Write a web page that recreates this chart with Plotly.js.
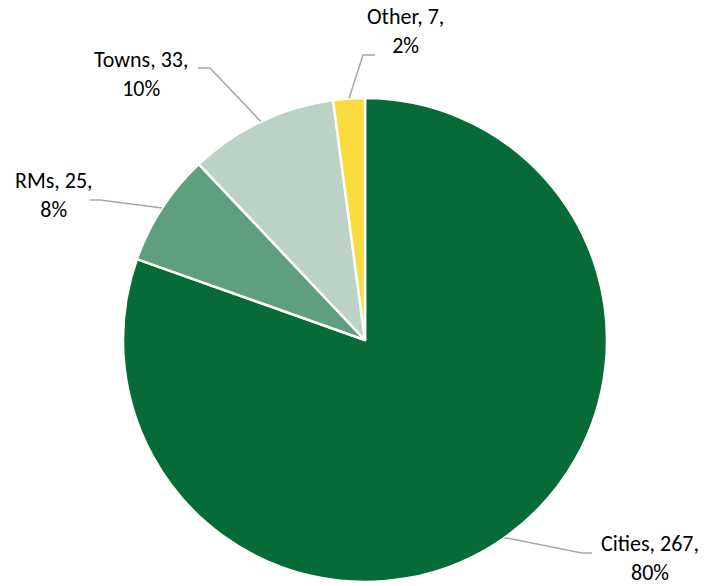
<!DOCTYPE html>
<html>
<head>
<meta charset="utf-8">
<script src="https://cdn.plot.ly/plotly-3.0.1.min.js"></script>
<style>html,body{margin:0;padding:0;background:#fff}#chart{width:704px;height:586px}</style>
</head>
<body>
<div id="chart"></div>
<script>
const labels = ["Cities", "RMs", "Towns", "Other"];
const values = [267, 25, 33, 7];
const colors = ["#066B37", "#5F9E7F", "#BCD2C7", "#FBDC3F"];

const W = 704, H = 586;
const cx = 365, cy = 340, R = 242;
// label block centres and elbow points (pixels)
const labelPos = [[650, 558], [54, 195], [141, 74], [405, 31]];
const elbowPos = [[582, 553], [100, 200], [210, 68], [363, 55]];
const lineEnd  = [[592, 553], [90, 200], [198, 68], [375, 55]];

const total = values.reduce((a, b) => a + b, 0);
const px = x => x / W, py = y => 1 - y / H;

const annotations = [];
const shapes = [];
let cum = 0;
values.forEach((v, i) => {
  const mid = (cum + v / 2) / total * 2 * Math.PI;
  cum += v;
  const sx = cx + R * Math.sin(mid), sy = cy - R * Math.cos(mid);
  const pct = Math.round(v / total * 100);
  annotations.push({
    xref: "paper", yref: "paper", x: px(labelPos[i][0]), y: py(labelPos[i][1]),
    xanchor: "center", yanchor: "middle", showarrow: false, align: "center",
    borderpad: 0,
    text: `${labels[i]}, ${v},<br>${pct}%`,
    font: {family: "Carlito, Calibri, Lato, sans-serif", size: 22, color: "#000"}
  });
  shapes.push({
    type: "path", xref: "paper", yref: "paper",
    path: `M ${px(sx)} ${py(sy)} L ${px(elbowPos[i][0])} ${py(elbowPos[i][1])} L ${px(lineEnd[i][0])} ${py(lineEnd[i][1])}`,
    line: {color: "#A6A6A6", width: 1.5}
  });
});

const data = [{
  type: "pie",
  labels: labels,
  values: values,
  sort: false,
  direction: "clockwise",
  rotation: 0,
  textinfo: "none",
  hoverinfo: "label+value+percent",
  marker: {colors: colors, line: {color: "#FFFFFF", width: 2.5}},
  domain: {x: [(cx - R) / W, (cx + R) / W], y: [(H - cy - R) / H, (H - cy + R) / H]},
  showlegend: false
}];

const layout = {
  width: W, height: H,
  margin: {l: 0, r: 0, t: 0, b: 0},
  paper_bgcolor: "#fff",
  showlegend: false,
  annotations: annotations,
  shapes: shapes
};

Plotly.newPlot("chart", data, layout, {displayModeBar: false, staticPlot: true});
</script>
</body>
</html>
